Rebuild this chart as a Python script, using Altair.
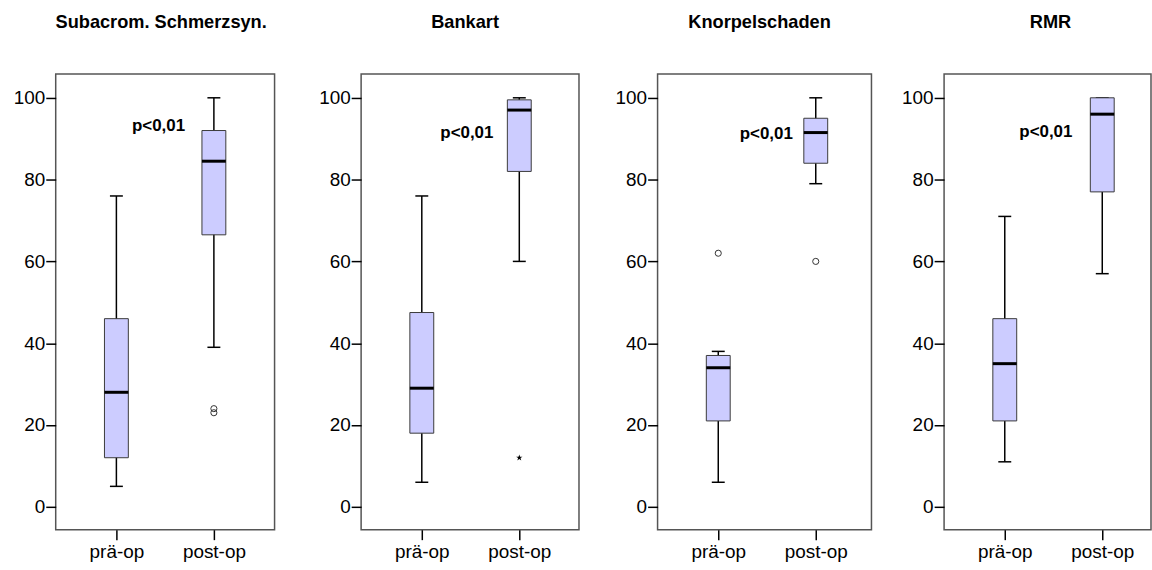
import altair as alt
import pandas as pd

FONT = "Liberation Sans"

panels = ["Subacrom. Schmerzsyn.", "Bankart", "Knorpelschaden", "RMR"]
groups = ["prä-op", "post-op"]

# Five-number summaries per panel, ordered [prä-op, post-op]
whisker_low = [[5, 39], [6, 60], [6, 79], [11, 57]]
quart_1 = [[12, 66.5], [18, 82], [21, 84], [21, 77]]
medians = [[28, 84.5], [29, 97], [34, 91.5], [35, 96]]
quart_3 = [[46, 92], [47.5, 99.5], [37, 95], [46, 100]]
whisker_high = [[76, 100], [76, 100], [38, 100], [71, 100]]

# Outliers (open circles) and extreme values (stars)
out_panel = ["Subacrom. Schmerzsyn.", "Subacrom. Schmerzsyn.", "Knorpelschaden", "Knorpelschaden"]
out_group = ["post-op", "post-op", "prä-op", "post-op"]
out_value = [23, 24, 62, 60]
ext_panel = ["Bankart"]
ext_group = ["post-op"]
ext_value = [12]

# Significance annotation per panel
p_text = ["p<0,01", "p<0,01", "p<0,01", "p<0,01"]
p_y = [93, 91.5, 91.2, 91.7]

# Layout per panel
widths = [220, 219, 215, 208]
label_dx = [-29, -26, -23, -30]
title_dx = [-4, -5, -5, 3]

STAR = ("M0,-1L0.2245,-0.309L0.951,-0.309L0.3633,0.118L0.5878,0.809"
        "L0,0.382L-0.5878,0.809L-0.3633,0.118L-0.951,-0.309L-0.2245,-0.309Z")

x_enc = alt.X(
    "group:N",
    sort=groups,
    scale=alt.Scale(type="point", domain=groups, range=[61, 159], padding=0),
    axis=alt.Axis(title=None, labelAngle=0, domain=False, grid=False,
                  tickSize=10, tickWidth=1.5, labelPadding=3),
)
y_scale = alt.Scale(domain=[-5.6, 105.8], nice=False, zero=False)
y_axis = alt.Axis(title=None, values=[0, 20, 40, 60, 80, 100], domain=False,
                  grid=False, tickSize=10, tickWidth=1.5, labelPadding=1)


def panel(i):
    name = panels[i]
    stats = pd.DataFrame({
        "group": groups,
        "low": whisker_low[i],
        "q1": quart_1[i],
        "med": medians[i],
        "q3": quart_3[i],
        "high": whisker_high[i],
    })
    base = alt.Chart(stats)
    whisk = base.mark_rule(color="black", strokeWidth=1.5).encode(
        x=x_enc, y=alt.Y("low:Q", scale=y_scale, axis=y_axis), y2="high:Q")
    cap_lo = base.mark_tick(size=13, thickness=1.5, color="black", opacity=1).encode(
        x=x_enc, y=alt.Y("low:Q", scale=y_scale))
    cap_hi = base.mark_tick(size=13, thickness=1.5, color="black", opacity=1).encode(
        x=x_enc, y=alt.Y("high:Q", scale=y_scale))
    box = base.mark_bar(size=24, fill="#ccccff", stroke="#3a3a3a",
                        strokeWidth=1, opacity=1).encode(
        x=x_enc, y=alt.Y("q1:Q", scale=y_scale), y2="q3:Q")
    med = base.mark_tick(size=24, thickness=3, color="black", opacity=1).encode(
        x=x_enc, y=alt.Y("med:Q", scale=y_scale))
    layers = [whisk, cap_lo, cap_hi, box, med]

    outs = pd.DataFrame({"panel": out_panel, "group": out_group, "value": out_value})
    outs = outs[outs["panel"] == name]
    if len(outs):
        layers.append(alt.Chart(outs).mark_point(
            shape="circle", filled=False, size=38, stroke="#333",
            strokeWidth=1, opacity=1).encode(
            x=x_enc, y=alt.Y("value:Q", scale=y_scale)))

    exts = pd.DataFrame({"panel": ext_panel, "group": ext_group, "value": ext_value})
    exts = exts[exts["panel"] == name]
    if len(exts):
        layers.append(alt.Chart(exts).mark_point(
            shape=STAR, filled=True, size=45, color="black", opacity=1).encode(
            x=x_enc, y=alt.Y("value:Q", scale=y_scale)))

    ann = pd.DataFrame({"group": ["post-op"], "y": [p_y[i]], "label": [p_text[i]]})
    layers.append(alt.Chart(ann).mark_text(
        align="right", baseline="middle", dx=label_dx[i], font=FONT,
        fontSize=17, fontWeight="bold", color="black").encode(
        x=x_enc, y=alt.Y("y:Q", scale=y_scale), text="label:N"))

    return alt.layer(*layers).properties(
        width=widths[i],
        height=458,
        title=alt.TitleParams(
            text=name, anchor="middle", frame="group", dx=title_dx[i],
            font=FONT, fontSize=18.3, fontWeight="bold", color="black",
            offset=42),
    )


p1, p2, p3, p4 = (panel(i) for i in range(4))

chart = alt.hconcat(
    p1,
    alt.hconcat(p2, alt.hconcat(p3, p4, spacing=28), spacing=34),
    spacing=42,
).properties(
    padding={"left": 12, "top": 10, "right": 0, "bottom": 0},
    background="white",
).configure_view(
    stroke="#555555", strokeWidth=1.5,
).configure_axis(
    labelFont=FONT, labelFontSize=19, labelColor="black",
    tickColor="black",
)

chart.save("out.html", embed_options={"renderer": "svg", "actions": False})
